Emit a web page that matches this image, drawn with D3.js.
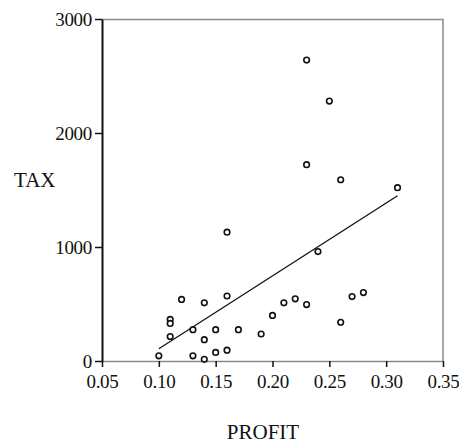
<!DOCTYPE html>
<html>
<head>
<meta charset="utf-8">
<script src="https://cdn.jsdelivr.net/npm/d3@7"></script>
<style>
  body { margin: 0; background: #fff; }
  text { font-family: "Liberation Serif", "DejaVu Serif", serif; fill: #111; }
</style>
</head>
<body>
<div id="chart"></div>
<script>
// Scatter of TAX against PROFIT with fitted line

var profit = [0.10, 0.11, 0.11, 0.11, 0.12, 0.13, 0.13, 0.14, 0.14, 0.14,
  0.15, 0.15, 0.16, 0.16, 0.16, 0.17, 0.19, 0.20, 0.21, 0.22,
  0.23, 0.23, 0.23, 0.24, 0.25, 0.26, 0.26, 0.27, 0.28, 0.31];
var tax = [45, 365, 330, 215, 540, 275, 45, 510, 187, 15,
  275, 75, 1130, 570, 95, 275, 237, 400, 510, 545,
  2640, 1722, 495, 960, 2280, 1590, 340, 565, 600, 1520];

// fitted line ends
var fitProfit = [0.10, 0.31];
var fitTax = [108, 1450];

var xTicks = [0.05, 0.10, 0.15, 0.20, 0.25, 0.30, 0.35];
var yTicks = [0, 1000, 2000, 3000];

var svgWidth = 459;
var svgHeight = 443;
var margin = { top: 19, right: 16, bottom: 82, left: 102 };
var width = svgWidth - margin.left - margin.right;
var height = svgHeight - margin.top - margin.bottom;

var svg = d3.select("#chart").append("svg")
  .attr("width", svgWidth)
  .attr("height", svgHeight);

var chartGroup = svg.append("g")
  .attr("transform", `translate(${margin.left}, ${margin.top})`);

var xScale = d3.scaleLinear().domain([0.05, 0.35]).range([0, width]);
var yScale = d3.scaleLinear().domain([0, 3000]).range([height, 0]);

// top and right frame
chartGroup.append("path")
  .attr("d", `M0,0.5H${width}V${height}`)
  .attr("fill", "none")
  .attr("stroke", "#8a8a8a")
  .attr("stroke-width", 1.5);

// bottom axis
var xAxis = chartGroup.append("g")
  .attr("transform", `translate(0, ${height})`)
  .call(d3.axisBottom(xScale).tickValues(xTicks).tickFormat(d3.format(".2f"))
    .tickSize(6).tickPadding(8).tickSizeOuter(0));
xAxis.select(".domain").attr("stroke", "#8a8a8a").attr("stroke-width", 1.5);
xAxis.selectAll(".tick line").attr("stroke", "#111").attr("stroke-width", 1.5);
xAxis.selectAll("text")
  .style("font-size", "19px")
  .style("letter-spacing", "-0.3px")
  .style("font-family", "Liberation Serif");

// left axis
var yAxis = chartGroup.append("g")
  .call(d3.axisLeft(yScale).tickValues(yTicks).tickFormat(d3.format("d"))
    .tickSize(7).tickPadding(3).tickSizeOuter(0));
yAxis.select(".domain").attr("stroke", "#111").attr("stroke-width", 2);
yAxis.selectAll(".tick line").attr("stroke", "#111").attr("stroke-width", 1.5);
yAxis.selectAll("text")
  .style("font-size", "19px")
  .style("letter-spacing", "-0.3px")
  .style("font-family", "Liberation Serif");

// fitted line
var fitData = fitProfit.map((p, i) => ({ profit: p, tax: fitTax[i] }));
chartGroup.append("path")
  .datum(fitData)
  .attr("fill", "none")
  .attr("stroke", "#111")
  .attr("stroke-width", 1.3)
  .attr("d", d3.line().x(d => xScale(d.profit)).y(d => yScale(d.tax)));

// points
var points = profit.map((p, i) => ({ profit: p, tax: tax[i] }));
chartGroup.selectAll("circle")
  .data(points)
  .enter()
  .append("circle")
  .attr("cx", d => xScale(d.profit))
  .attr("cy", d => yScale(d.tax))
  .attr("r", 2.8)
  .attr("fill", "#fff")
  .attr("stroke", "#111")
  .attr("stroke-width", 1.6);

// axis titles
svg.append("text")
  .attr("x", 14)
  .attr("y", 187)
  .style("font-size", "21px")
  .text("TAX");

svg.append("text")
  .attr("x", 263)
  .attr("y", 439)
  .attr("text-anchor", "middle")
  .style("font-size", "21px")
  .text("PROFIT");
</script>
</body>
</html>
